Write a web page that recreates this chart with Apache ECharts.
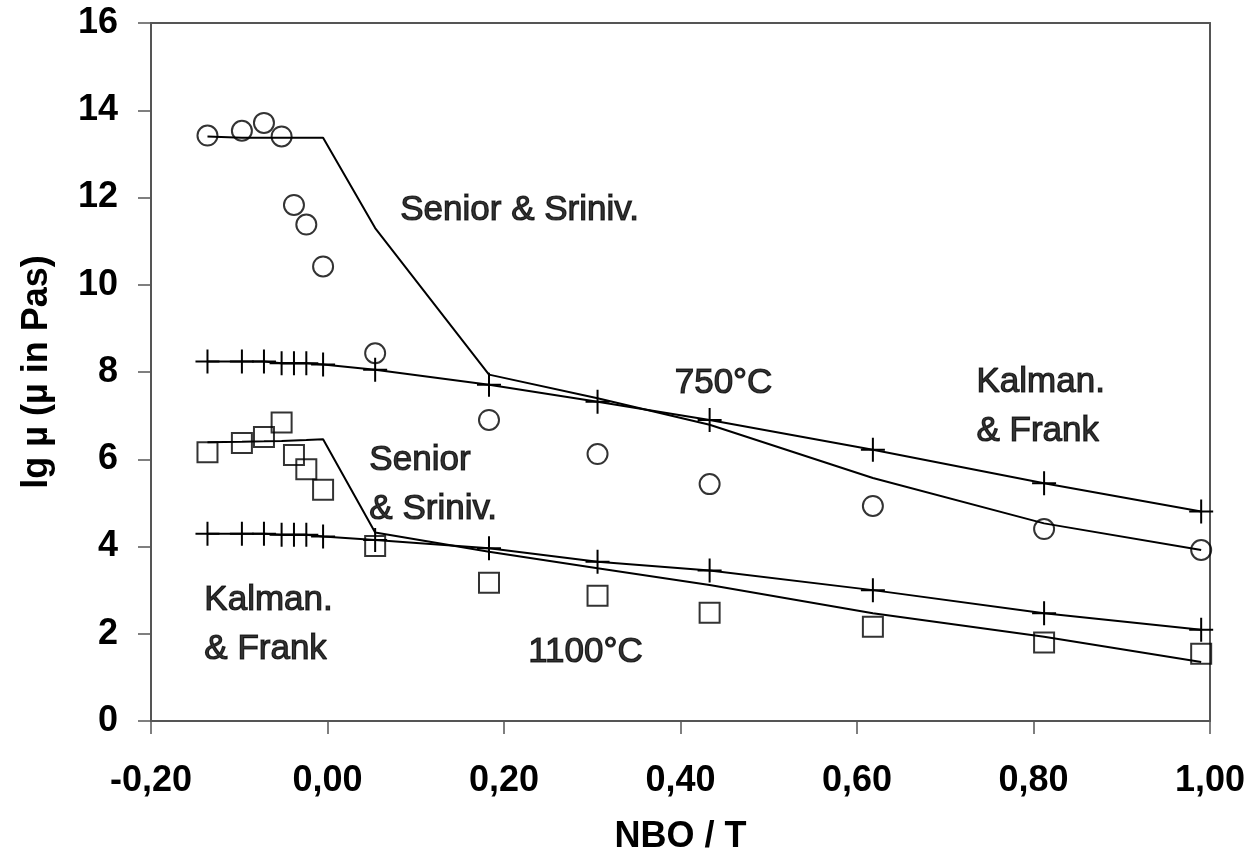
<!DOCTYPE html>
<html>
<head>
<meta charset="utf-8">
<script src="https://cdn.jsdelivr.net/npm/echarts@6/dist/echarts.min.js"></script>
<style>
html,body{margin:0;padding:0;background:#fff;}
#chart{width:1251px;height:855px;}
</style>
</head>
<body>
<div id="chart"></div>
<script>
// NBO/T composition values
const nbo = [-0.136, -0.097, -0.072, -0.052, -0.038, -0.024, -0.005, 0.054, 0.183, 0.306, 0.433, 0.618, 0.812, 0.990];
// 750 °C
const meas750    = [13.42, 13.53, 13.71, 13.40, 11.83, 11.38, 10.42, 8.43, 6.90, 6.12, 5.43, 4.93, 4.40, 3.92];
const senior750  = [13.40, 13.37, 13.37, 13.37, 13.37, 13.37, 13.37, 11.30, 7.94, 7.40, 6.79, 5.57, 4.53, 3.92];
const kalman750  = [8.24, 8.24, 8.24, 8.20, 8.20, 8.20, 8.17, 8.05, 7.71, 7.32, 6.90, 6.22, 5.45, 4.80];
// 1100 °C
const meas1100   = [6.16, 6.37, 6.51, 6.84, 6.10, 5.77, 5.30, 4.01, 3.17, 2.87, 2.48, 2.16, 1.80, 1.54];
const senior1100 = [6.39, 6.40, 6.41, 6.42, 6.43, 6.44, 6.46, 4.32, 3.88, 3.50, 3.12, 2.47, 1.93, 1.35];
const kalman1100 = [4.29, 4.29, 4.29, 4.27, 4.27, 4.27, 4.23, 4.15, 3.96, 3.65, 3.45, 3.00, 2.47, 2.09];
// annotations: text and anchor (left edge, vertical centre) in data coordinates
const noteTexts = ['Senior & Sriniv.', '750°C', 'Kalman.\n& Frank', 'Senior\n& Sriniv.', 'Kalman.\n& Frank', '1100°C'];
const noteX = [0.083, 0.394, 0.736, 0.048, -0.139, 0.228];
const noteY = [11.70, 7.72, 7.18, 5.40, 2.20, 1.56];
// axis ticks
const xMin = -0.2, xMax = 1.0, xStep = 0.2;
const yMin = 0, yMax = 16, yStep = 2;

const pairs = (ys) => nbo.map((x, i) => [x, ys[i]]);
const FONT = '"Liberation Sans", Arial, sans-serif';
const AXC = '#555';
const plusPath = 'path://M11,0h2v24h-2z M0,11h24v2h-24z';

const chart = echarts.init(document.getElementById('chart'), null, {renderer: 'canvas'});
chart.setOption({
  animation: false,
  backgroundColor: '#fff',
  grid: {left: 151, right: 41, top: 23, bottom: 134, containLabel: false, outerBoundsMode: 'none'},
  xAxis: [{
    type: 'value', min: xMin, max: xMax, interval: xStep,
    name: 'NBO / T', nameLocation: 'middle', nameGap: 98,
    nameTextStyle: {fontFamily: FONT, fontSize: 36, fontWeight: 'bold', color: '#000'},
    axisLine: {show: true, onZero: false, lineStyle: {color: AXC, width: 2}},
    axisTick: {show: true, inside: false, length: 13, lineStyle: {color: AXC, width: 1.5}},
    axisLabel: {
      margin: 42, fontFamily: FONT, fontSize: 36, fontWeight: 'bold', color: '#000',
      formatter: (v) => (Math.abs(v) < 1e-9 ? 0 : v).toFixed(2).replace('.', ',')
    },
    splitLine: {show: false}
  }, {
    type: 'value', min: xMin, max: xMax, position: 'top',
    axisLine: {show: true, onZero: false, lineStyle: {color: AXC, width: 2}},
    axisTick: {show: false}, axisLabel: {show: false}, splitLine: {show: false}
  }],
  yAxis: [{
    type: 'value', min: yMin, max: yMax, interval: yStep,
    name: 'lg µ (µ in Pas)', nameLocation: 'middle', nameGap: 96,
    nameTextStyle: {fontFamily: FONT, fontSize: 36, fontWeight: 'bold', color: '#000'},
    axisLine: {show: true, onZero: false, lineStyle: {color: AXC, width: 2}},
    axisTick: {show: true, inside: false, length: 13, lineStyle: {color: AXC, width: 1.5}},
    axisLabel: {margin: 33, fontFamily: FONT, fontSize: 36, fontWeight: 'bold', color: '#000'},
    splitLine: {show: false}
  }, {
    type: 'value', min: yMin, max: yMax, position: 'right',
    axisLine: {show: true, onZero: false, lineStyle: {color: AXC, width: 2}},
    axisTick: {show: false}, axisLabel: {show: false}, splitLine: {show: false}
  }],
  series: [
    {
      name: 'Senior 750', type: 'line', data: pairs(senior750), symbol: 'none',
      lineStyle: {color: '#000', width: 2}, z: 2
    },
    {
      name: 'Kalman 750', type: 'line', data: pairs(kalman750),
      symbol: plusPath, symbolSize: 24, showAllSymbol: true,
      itemStyle: {color: '#000'}, lineStyle: {color: '#000', width: 2}, z: 2
    },
    {
      name: 'Senior 1100', type: 'line', data: pairs(senior1100), symbol: 'none',
      lineStyle: {color: '#000', width: 2}, z: 2
    },
    {
      name: 'Kalman 1100', type: 'line', data: pairs(kalman1100),
      symbol: plusPath, symbolSize: 24, showAllSymbol: true,
      itemStyle: {color: '#000'}, lineStyle: {color: '#000', width: 2}, z: 2
    },
    {
      name: 'Measured 750', type: 'scatter', data: pairs(meas750),
      symbol: 'circle', symbolSize: 20,
      itemStyle: {color: 'transparent', borderColor: '#000', borderWidth: 2}, z: 3
    },
    {
      name: 'Measured 1100', type: 'scatter', data: pairs(meas1100),
      symbol: 'rect', symbolSize: 20,
      itemStyle: {color: 'transparent', borderColor: '#000', borderWidth: 2}, z: 3
    },
    {
      name: 'notes', type: 'scatter', silent: true,
      data: noteTexts.map((t, i) => ({value: [noteX[i], noteY[i]], label: {formatter: t}})),
      symbolSize: 1, itemStyle: {color: 'transparent'},
      label: {
        show: true, position: [0, 0], align: 'left', verticalAlign: 'middle',
        fontFamily: FONT, fontSize: 35, color: '#000', lineHeight: 49,
        textBorderColor: '#000', textBorderWidth: 1.2
      },
      z: 4
    }
  ]
});
</script>
</body>
</html>
